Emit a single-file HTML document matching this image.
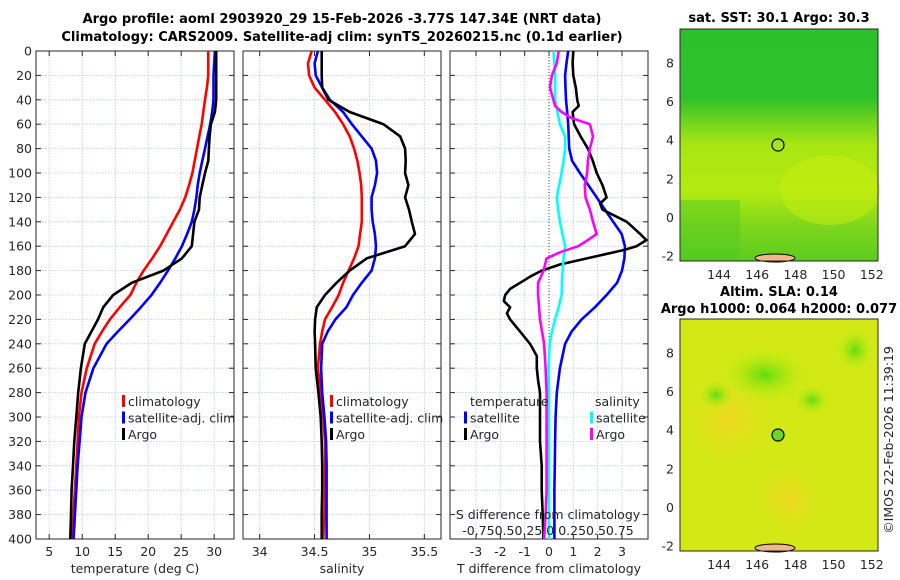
<!DOCTYPE html>
<html><head><meta charset="utf-8">
<style>
html,body{margin:0;padding:0;background:#fff;}
svg{display:block;font-family:"DejaVu Sans","Liberation Sans",sans-serif;}
</style></head>
<body>
<svg id="fig" width="900" height="580" viewBox="0 0 900 580" xmlns="http://www.w3.org/2000/svg">
<defs>
<clipPath id="c1"><rect x="36" y="51" width="198" height="488"/></clipPath>
<clipPath id="c2"><rect x="243" y="51" width="198" height="488"/></clipPath>
<clipPath id="c3"><rect x="450" y="51" width="198" height="488"/></clipPath>
<linearGradient id="sstg" x1="0" y1="0" x2="0" y2="1">
<stop offset="0" stop-color="#2ec02a"/><stop offset="0.3" stop-color="#30c22a"/>
<stop offset="0.42" stop-color="#7cd81a"/><stop offset="0.5" stop-color="#a8e612"/>
<stop offset="0.7" stop-color="#b4ea10"/><stop offset="0.85" stop-color="#7ed61c"/>
<stop offset="1" stop-color="#5ccc20"/></linearGradient>
<radialGradient id="blob"><stop offset="0" stop-color="#5fdc10"/><stop offset="1" stop-color="#c8ee10" stop-opacity="0"/></radialGradient>
<radialGradient id="oblob"><stop offset="0" stop-color="#f0d820"/><stop offset="1" stop-color="#e0e418" stop-opacity="0"/></radialGradient>
</defs>
<text x="342" y="23" text-anchor="middle" font-size="13" font-weight="bold" fill="#000">Argo profile: aoml 2903920_29 15-Feb-2026 -3.77S 147.34E (NRT data)</text>
<text x="342" y="41" text-anchor="middle" font-size="13" font-weight="bold" fill="#000">Climatology: CARS2009. Satellite-adj clim: synTS_20260215.nc (0.1d earlier)</text>
<g id="plots"></g>
<g>
<text x="779" y="22" text-anchor="middle" font-size="13" font-weight="bold">sat. SST: 30.1 Argo: 30.3</text>
<rect x="680" y="29" width="198" height="232" fill="url(#sstg)"/>
<rect x="680" y="200" width="60" height="61" fill="#4cc822" opacity="0.4"/>
<ellipse cx="830" cy="190" rx="50" ry="35" fill="#c8ee10" opacity="0.5"/>
<circle cx="778" cy="145" r="6" fill="none" stroke="#000" stroke-width="1.2"/>
<ellipse cx="775" cy="258" rx="20" ry="4" fill="#f0b888" stroke="#000" stroke-width="1"/>
<rect x="680" y="29" width="198" height="232" fill="none" stroke="#262626"/>
</g>
<g>
<text x="779" y="296" text-anchor="middle" font-size="13" font-weight="bold">Altim. SLA: 0.14</text>
<text x="779" y="313" text-anchor="middle" font-size="13" font-weight="bold">Argo h1000: 0.064 h2000: 0.077</text>
<rect x="680" y="319" width="198" height="232" fill="#d2e916"/>
<ellipse cx="730" cy="420" rx="50" ry="50" fill="url(#oblob)"/>
<ellipse cx="790" cy="500" rx="40" ry="40" fill="url(#oblob)"/>
<ellipse cx="765" cy="375" rx="45" ry="28" fill="url(#blob)"/>
<ellipse cx="716" cy="395" rx="18" ry="16" fill="url(#blob)"/>
<ellipse cx="812" cy="400" rx="18" ry="16" fill="url(#blob)"/>
<ellipse cx="855" cy="350" rx="20" ry="22" fill="url(#blob)"/>
<circle cx="778" cy="435" r="6" fill="#6ad620" stroke="#000" stroke-width="1.2"/>
<ellipse cx="775" cy="548" rx="20" ry="4" fill="#f0b888" stroke="#000" stroke-width="1"/>
<rect x="680" y="319" width="198" height="232" fill="none" stroke="#262626"/>
</g>
<text transform="translate(893,440) rotate(-90)" text-anchor="middle" font-size="12.5" fill="#262626">©IMOS 22-Feb-2026 11:39:19</text>
</svg>
<script>
const depths = [0,10,20,30,40,50,60,70,80,90,100,110,120,130,140,150,160,170,180,190,200,210,220,230,240,260,280,300,320,340,360,380,400];
const climT = [29.1,29.1,29.1,28.9,28.6,28.35,28.1,27.75,27.4,27.05,26.7,26.2,25.6,24.8,23.8,22.8,21.8,20.6,19.3,18.2,17.3,15.7,14.2,13.0,11.9,10.7,9.9,9.5,9.3,9.1,8.9,8.7,8.5];
const satT = [30.1,30.0,29.9,29.9,29.9,29.7,29.4,29.0,28.6,28.2,27.8,27.5,27.3,27.0,26.6,25.9,25.1,24.1,23.0,21.8,20.5,18.9,17.2,15.4,13.7,11.7,10.5,9.9,9.6,9.3,9.1,8.9,8.7];
const argoT = [30.3,30.3,30.3,30.3,30.3,30.1,29.5,29.3,29.2,29.1,28.6,28.2,27.8,27.7,27.0,26.8,26.6,25.1,22.3,17.5,14.7,13.2,12.4,11.4,10.4,9.8,9.4,9.1,8.8,8.6,8.4,8.3,8.2];
const climS = [34.474,34.44,34.45,34.50,34.595,34.687,34.76,34.82,34.86,34.89,34.91,34.925,34.93,34.93,34.93,34.915,34.90,34.86,34.81,34.76,34.72,34.66,34.595,34.57,34.55,34.53,34.556,34.58,34.595,34.595,34.595,34.59,34.58];
const satS = [34.53,34.50,34.51,34.57,34.64,34.76,34.84,34.93,35.02,35.06,35.07,35.05,35.02,35.02,35.03,35.05,35.06,35.05,35.02,34.93,34.85,34.79,34.69,34.62,34.57,34.56,34.57,34.59,34.605,34.61,34.61,34.61,34.61];
const argoS = [34.565,34.565,34.565,34.57,34.626,34.82,35.127,35.28,35.325,35.33,35.325,35.355,35.325,35.36,35.386,35.415,35.325,34.975,34.82,34.70,34.595,34.52,34.505,34.50,34.505,34.51,34.535,34.556,34.565,34.57,34.57,34.565,34.565];
// difference panel (values in deg C units; salinity already scaled x4)
const satTdiff = [0.79,0.72,0.66,0.68,0.7,0.75,0.79,0.81,0.83,0.95,1.27,1.62,1.96,2.3,2.64,2.99,3.12,3.1,3.0,2.8,2.37,1.89,1.34,0.93,0.66,0.45,0.32,0.27,0.25,0.24,0.22,0.22,0.22];
const argoDiffDepths = [0,10,20,30,40,45,50,60,70,80,90,100,110,120,125,130,140,150,155,160,163,170,175,180,185,190,195,200,205,210,215,220,230,240,250,260,270,280,300,320,340,360,380,400];
const argoTdiff = [1.0,0.97,1.0,1.1,1.16,1.22,0.97,1.03,1.3,1.6,1.8,1.96,2.2,2.37,2.1,2.2,3.2,3.75,4.0,3.6,3.1,1.56,0.45,-0.3,-0.78,-1.19,-1.6,-1.8,-1.86,-1.6,-1.73,-1.6,-1.19,-0.78,-0.5,-0.5,-0.45,-0.37,-0.37,-0.37,-0.3,-0.3,-0.26,-0.23];
const satSdiff = [0.18,0.22,0.25,0.25,0.25,0.35,0.45,0.66,0.66,0.6,0.52,0.42,0.32,0.38,0.45,0.55,0.66,0.6,0.56,0.54,0.52,0.4,0.25,0.12,0.03,-0.02,0.0,0.0,0.0,0.0,0.0,0.0,0.0];
const argoSdiffDepths = [0,10,20,30,40,45,50,55,60,70,80,90,100,110,120,130,140,150,155,160,165,170,180,190,200,220,240,260,280,300,320,340,360,380,400];
const argoSdiff = [0.4,0.32,0.12,0.04,0.18,0.25,0.52,0.93,1.68,1.81,1.68,1.6,1.57,1.47,1.5,1.68,1.81,1.96,1.6,1.2,0.45,-0.1,-0.22,-0.45,-0.45,-0.37,-0.2,-0.14,-0.1,-0.1,-0.1,-0.1,-0.1,-0.14,-0.2];
const yTicks = [0,20,40,60,80,100,120,140,160,180,200,220,240,260,280,300,320,340,360,380,400];
const tTicks = [5,10,15,20,25,30];
const sTicks = [34,34.5,35,35.5];
const dTicks = [-3,-2,-1,0,1,2,3];

const NS='http://www.w3.org/2000/svg';
const root=document.getElementById('plots');
const Y0=51,Y1=539;
function yScale(d){return Y0+(d/400)*(Y1-Y0);}
function mk(tag,attrs,parent){const e=document.createElementNS(NS,tag);for(const k in attrs)e.setAttribute(k,attrs[k]);(parent||root).appendChild(e);return e;}
function panel(name,x0,x1,dmin,dmax,xt,label,clip,showY){
  const sx=v=>x0+(v-dmin)/(dmax-dmin)*(x1-x0);
  const g=mk('g',{});
  
  
  yTicks.forEach(t=>{const y=yScale(t);
    const l=mk('line',{x1:x0,x2:x1,y1:y,y2:y,stroke:'#b8c4ea','stroke-width':0.8,'stroke-dasharray':'1.5,1.5'},g);
    
    
    mk('line',{x1:x0,x2:x0+5,y1:y,y2:y,stroke:'#262626'},g);
    mk('line',{x1:x1-5,x2:x1,y1:y,y2:y,stroke:'#262626'},g);
    if(showY){const tx=mk('text',{x:x0-4,y:y+4.5,'text-anchor':'end','font-size':12.5,fill:'#262626'},g);tx.textContent=t;
      
      }
  });
  xt.forEach(t=>{const x=sx(t);
    const l=mk('line',{x1:x,x2:x,y1:Y0,y2:Y1,stroke:'#b8c4ea','stroke-width':0.8,'stroke-dasharray':'1.5,1.5'},g);
    
    
    mk('line',{x1:x,x2:x,y1:Y1,y2:Y1-5,stroke:'#262626'},g);
    mk('line',{x1:x,x2:x,y1:Y0,y2:Y0+5,stroke:'#262626'},g);
    const tx=mk('text',{x:x,y:556,'text-anchor':'middle','font-size':12.5,fill:'#262626'},g);tx.textContent=t;
    
    
  });
  mk('rect',{x:x0,y:Y0,width:x1-x0,height:Y1-Y0,fill:'none',stroke:'#262626','stroke-width':1},g);
  const lb=mk('text',{x:(x0+x1)/2,y:573,'text-anchor':'middle','font-size':12.5,fill:'#262626'},g);lb.textContent=label;
  
  
  return {g,sx,clip};
}
function line(p,vals,dep,color,name){
  const pts=vals.map((v,i)=>p.sx(v).toFixed(1)+','+yScale(dep[i]).toFixed(1)).join(' ');
  const pl=mk('polyline',{points:pts,fill:'none',stroke:color,'stroke-width':2.6,'stroke-linejoin':'round','clip-path':'url(#'+p.clip+')'},p.g);
  
  
}
function legend(g,x,y,items){
  items.forEach((it,i)=>{const yy=y+i*16.5;
    mk('rect',{x:x,y:yy-11,width:3,height:12,fill:it[1]},g);
    const t=mk('text',{x:x+6,y:yy,'font-size':12.5,fill:'#262626'},g);t.textContent=it[0];
    
    
  });
}
const p1=panel('temperature-panel',36,234,3,33,tTicks,'temperature (deg C)','c1',true);
line(p1,climT,depths,'#ff0000','climatology-temperature-line');
line(p1,satT,depths,'#0000ff','satellite-temperature-line');
line(p1,argoT,depths,'#000000','argo-temperature-line');
legend(p1.g,122,406,[['climatology','#ff0000'],['satellite-adj. clim','#0000ff'],['Argo','#000']]);

const p2=panel('salinity-panel',243,441,33.848,35.652,sTicks,'salinity','c2',false);
line(p2,climS,depths,'#ff0000','climatology-salinity-line');
line(p2,satS,depths,'#0000ff','satellite-salinity-line');
line(p2,argoS,depths,'#000000','argo-salinity-line');
legend(p2.g,330,406,[['climatology','#ff0000'],['satellite-adj. clim','#0000ff'],['Argo','#000']]);

const p3=panel('difference-panel',450,648,-4.07,4.07,dTicks,'T difference from climatology','c3',false);
mk('line',{x1:p3.sx(0),x2:p3.sx(0),y1:Y0,y2:Y1,stroke:'#444','stroke-width':1,'stroke-dasharray':'1,2'},p3.g);
line(p3,satTdiff,depths,'#0000ff','satellite-temperature-diff-line');
line(p3,argoTdiff,argoDiffDepths,'#000000','argo-temperature-diff-line');
line(p3,satSdiff,depths,'#00ffff','satellite-salinity-diff-line');
line(p3,argoSdiff,argoSdiffDepths,'#ff00ff','argo-salinity-diff-line');
const tt=mk('text',{x:470,y:406,'font-size':12.5,fill:'#262626'},p3.g);tt.textContent='temperature';


const ts=mk('text',{x:595,y:406,'font-size':12.5,fill:'#262626'},p3.g);ts.textContent='salinity';


legend(p3.g,464,422.5,[['satellite','#0000ff'],['Argo','#000']]);
legend(p3.g,590,422.5,[['satellite','#00ffff'],['Argo','#ff00ff']]);
const s1=mk('text',{x:548,y:519,'text-anchor':'middle','font-size':12.5,fill:'#262626'},p3.g);s1.textContent='S difference from climatology';


const s2=mk('text',{x:548,y:535,'text-anchor':'middle','font-size':12.5,fill:'#262626'},p3.g);s2.textContent='-0.750.50.25 0 0.250.50.75';



const lats=[8,6,4,2,0,-2], lons=[144,146,148,150,152];
function mapAxes(y0){
  const ly=l=>y0+34+(8-l)*19.3;
  lats.forEach(l=>{const y=ly(l);
    mk('line',{x1:680,x2:684,y1:y,y2:y,stroke:'#262626'});mk('line',{x1:874,x2:878,y1:y,y2:y,stroke:'#262626'});
    const t=mk('text',{x:674,y:y+4.5,'text-anchor':'end','font-size':12.5,fill:'#262626'});t.textContent=l;
    
    });
  lons.forEach(l=>{const x=719+(l-144)*19.1;
    mk('line',{x1:x,x2:x,y1:y0+228,y2:y0+232,stroke:'#262626'});
    const t=mk('text',{x:x,y:y0+250,'text-anchor':'middle','font-size':12.5,fill:'#262626'});t.textContent=l;
    
    });
}
mapAxes(29);mapAxes(319);
</script>
</body></html>
